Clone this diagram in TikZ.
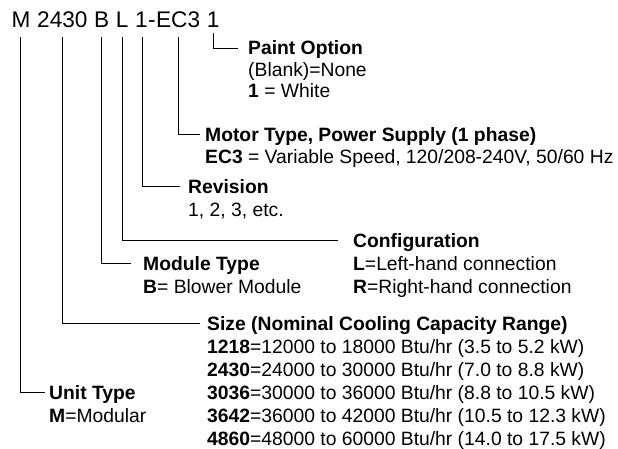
\documentclass[tikz,border=0pt]{standalone}
\usepackage{fontspec}
\setmainfont{Liberation Sans}
\begin{document}
\begin{tikzpicture}[x=1pt,y=-1pt,
  code/.style={inner sep=0pt, anchor=base west, font=\fontsize{22.6}{26}\selectfont},
  head/.style={inner sep=0pt, anchor=base west, font=\fontsize{19.3}{22.5}\selectfont\bfseries},
  desc/.style={inner sep=0pt, anchor=base west, align=left, font=\fontsize{19.3}{#1}\selectfont},
  desc/.default=22.5,
  lead/.style={draw=black, line width=0.8pt}]
\useasboundingbox (0,0) rectangle (618,449);
% model code
\node[code] (cM) at (11.5,28) {M};
\node[code] (cS) at ([xshift=6.3pt]cM.base east) {2430};
\node[code] (cB) at ([xshift=6.3pt]cS.base east) {B};
\node[code] (cL) at ([xshift=6.3pt]cB.base east) {L};
\node[code] (cR) at ([xshift=6.3pt]cL.base east) {1};
\node[code] (cD) at (cR.base east) {-};
\node[code] (cE) at (cD.base east) {EC3};
\node[code] (cP) at ([xshift=6.3pt]cE.base east) {1};
% headers and descriptions (multi-line nodes are placed by their last baseline)
\node[head] (hP) at (248,55) {Paint Option};
\node[desc=21.5] (dP) at (248,98) {(Blank)=None\\\textbf{1} = White};
\node[head] (hE) at (205,141.5) {Motor Type, Power Supply (1 phase)};
\node[desc] (dE) at (205,163.5) {\textbf{EC3} = Variable Speed, 120/208-240V, 50/60 Hz};
\node[head] (hR) at (188,193.5) {Revision};
\node[desc] (dR) at (188,216) {1, 2, 3, etc.};
\node[head] (hL) at (353,247) {Configuration};
\node[desc=23] (dL) at (353,293) {\textbf{L}=Left-hand connection\\\textbf{R}=Right-hand connection};
\node[head] (hB) at (143,270) {Module Type};
\node[desc] (dB) at (143,293) {\textbf{B}= Blower Module};
\node[head] (hS) at (207,330) {Size (Nominal Cooling Capacity Range)};
\node[desc=23] (dS) at (207,445) {\textbf{1218}=12000 to 18000 Btu/hr (3.5 to 5.2 kW)\\
\textbf{2430}=24000 to 30000 Btu/hr (7.0 to 8.8 kW)\\
\textbf{3036}=30000 to 36000 Btu/hr (8.8 to 10.5 kW)\\
\textbf{3642}=36000 to 42000 Btu/hr (10.5 to 12.3 kW)\\
\textbf{4860}=48000 to 60000 Btu/hr (14.0 to 17.5 kW)};
\node[head] (hM) at (49,399) {Unit Type};
\node[desc] (dM) at (49,422) {\textbf{M}=Modular};
% leaders
\draw[lead] ([yshift=-5pt]cP.south) |- ([xshift=-10pt,yshift=7pt]hP.base west);
\draw[lead] ([yshift=-9pt]cE.south) |- ([xshift=-5pt,yshift=7pt]hE.base west);
\draw[lead] ([xshift=1pt,yshift=-9pt]cR.south) |- ([xshift=-8pt,yshift=7pt]hR.base west);
\draw[lead] ([yshift=-9pt]cL.south) |- ([xshift=-15pt,yshift=7pt]hL.base west);
\draw[lead] ([yshift=-9pt]cB.south) |- ([xshift=-12pt,yshift=7pt]hB.base west);
\draw[lead] ([yshift=-9pt]cS.south) |- ([xshift=-7pt,yshift=7pt]hS.base west);
\draw[lead] ([xshift=-1pt,yshift=-9pt]cM.south) |- ([xshift=-4pt,yshift=7pt]hM.base west);
\end{tikzpicture}
\end{document}
